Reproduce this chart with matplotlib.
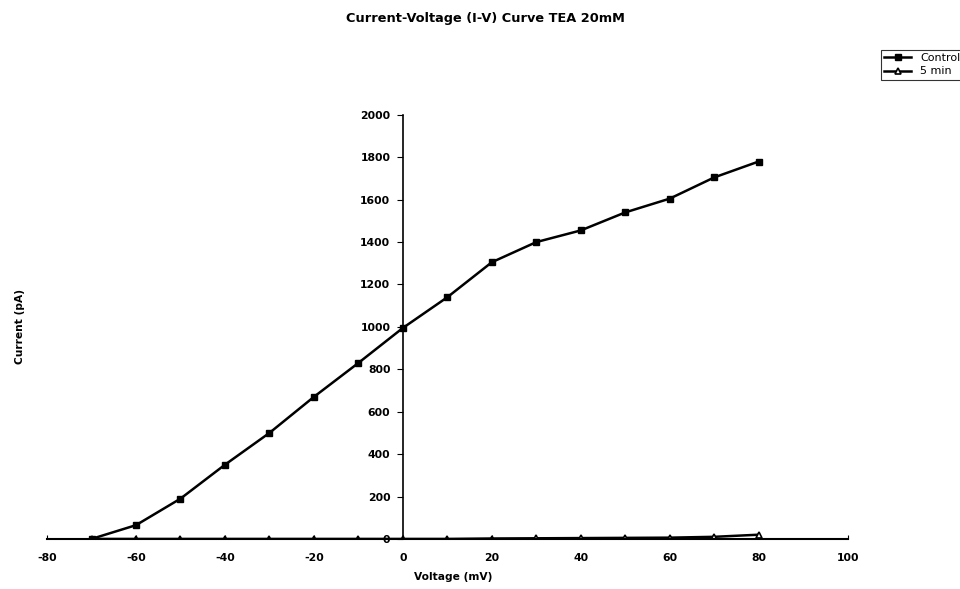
import matplotlib.pyplot as plt

voltage = [-70, -60, -50, -40, -30, -20, -10, 0, 10, 20, 30, 40, 50, 60, 70, 80]
control = [0, 65, 190, 350, 500, 670, 830, 995, 1140, 1305, 1400, 1455, 1540, 1605, 1705, 1780]
five_min = [0, 0, 0, 0, 0, 0, 0, 0, 0, 2, 3, 4, 5, 6, 10, 20]

plt.rcParams['font.family'] = ['DejaVu Sans']
plt.rcParams['font.weight'] = 'bold'
plt.rcParams['axes.unicode_minus'] = False

fig = plt.figure(figsize=(9.6, 5.89), dpi=100)
ax = fig.add_axes([0.049, 0.085, 0.834, 0.72])

ax.plot(voltage, control, color='black', lw=1.8, marker='s', ms=5, label='Control')
ax.plot(voltage, five_min, color='black', lw=1.8, marker='^', ms=4,
        markerfacecolor='white', markeredgewidth=1.2, label='5 min')

ax.set_xlim(-80, 100)
ax.set_ylim(0, 2000)
ax.set_xticks(range(-80, 101, 20))
ax.set_yticks(range(0, 2001, 200))

ax.spines['left'].set_position(('data', 0))
ax.spines['bottom'].set_position(('data', 0))
ax.spines['top'].set_visible(False)
ax.spines['right'].set_visible(False)
ax.spines['left'].set_linewidth(1.2)
ax.spines['bottom'].set_linewidth(1.5)
ax.tick_params(axis='y', direction='out', length=4, labelsize=7.8, pad=5)
ax.tick_params(axis='x', direction='in', length=3, labelsize=7.8, pad=10)

fig.text(0.021, 0.445, 'Current (pA)', rotation=90, fontsize=7.7,
         fontweight='bold', ha='center', va='center')
fig.text(0.472, 0.012, 'Voltage (mV)', fontsize=7.7, fontweight='bold',
         ha='center', va='bottom')
fig.text(0.506, 0.968, 'Current-Voltage (I-V) Curve TEA 20mM', fontsize=9.3,
         fontweight='bold', ha='center', va='center')

leg = fig.legend(loc='upper left', bbox_to_anchor=(0.912, 0.925), fontsize=8,
                 frameon=True, fancybox=False, edgecolor='black',
                 handlelength=2.4, borderpad=0.3, labelspacing=0.3,
                 prop={'weight': 'normal', 'size': 8})
leg.get_frame().set_linewidth(0.8)

fig.savefig('out.png', dpi=100)
